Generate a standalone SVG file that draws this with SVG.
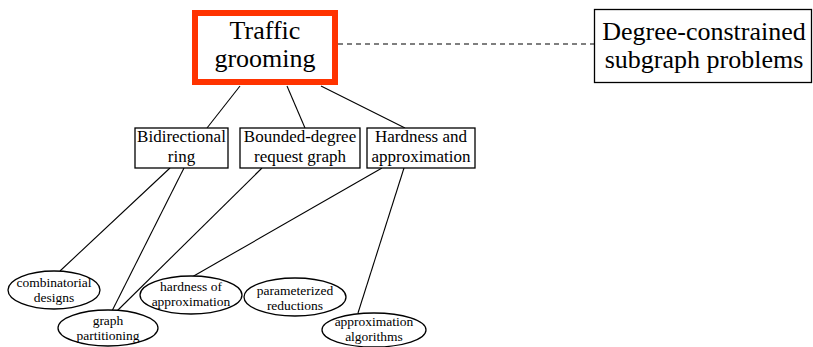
<svg xmlns="http://www.w3.org/2000/svg" width="813" height="347" viewBox="0 0 813 347">
<style>
text{font-family:"Liberation Serif","Times New Roman",serif;fill:#000;text-anchor:middle}
.big{font-size:26px}
.mid{font-size:17px}
.sm{font-size:13.5px}
.box{fill:#fff;stroke:#000;stroke-width:1.3}
.ell{fill:#fff;stroke:#000;stroke-width:1.3}
.edge{stroke:#000;stroke-width:1.1;fill:none}
</style>
<rect width="813" height="347" fill="#fff"/>
<g id="connectors">
<line class="edge" x1="338" y1="44" x2="594" y2="44" stroke-dasharray="5,4"/>
<line class="edge" x1="240" y1="86" x2="207" y2="128"/>
<line class="edge" x1="287" y1="86" x2="305" y2="128"/>
<line class="edge" x1="321" y1="86" x2="405" y2="128"/>
<line class="edge" x1="170" y1="168" x2="60" y2="271"/>
<line class="edge" x1="184" y1="168" x2="112" y2="311"/>
<line class="edge" x1="262" y1="168" x2="117" y2="311"/>
<line class="edge" x1="382" y1="168" x2="192" y2="277"/>
<line class="edge" x1="404" y1="168" x2="358" y2="313"/>
</g>
<g id="traffic-grooming">
<rect x="195" y="13" width="140" height="69" fill="#fff" stroke="#ff3300" stroke-width="6"/>
<text class="big" x="265" y="39">Traffic</text>
<text class="big" x="265" y="67">grooming</text>
</g>
<g id="degree-constrained">
<rect class="box" x="594.5" y="9.5" width="217" height="73"/>
<text class="big" x="704" y="40">Degree-constrained</text>
<text class="big" x="704" y="68">subgraph problems</text>
</g>
<g id="bidirectional-ring">
<rect class="box" x="135" y="128" width="93" height="40"/>
<text class="mid" x="181.5" y="142">Bidirectional</text>
<text class="mid" x="181.5" y="162">ring</text>
</g>
<g id="bounded-degree">
<rect class="box" x="240" y="128" width="120" height="40"/>
<text class="mid" x="300" y="142">Bounded-degree</text>
<text class="mid" x="300" y="162">request graph</text>
</g>
<g id="hardness">
<rect class="box" x="367" y="128" width="108" height="40"/>
<text class="mid" x="421" y="142">Hardness and</text>
<text class="mid" x="421" y="162">approximation</text>
</g>
<g id="combinatorial-designs">
<ellipse class="ell" cx="54" cy="290" rx="46" ry="19"/>
<text class="sm" x="54" y="287">combinatorial</text>
<text class="sm" x="54" y="302">designs</text>
</g>
<g id="graph-partitioning">
<ellipse class="ell" cx="108" cy="328" rx="50" ry="18"/>
<text class="sm" x="108" y="325">graph</text>
<text class="sm" x="108" y="340">partitioning</text>
</g>
<g id="hardness-of-approximation">
<ellipse class="ell" cx="191" cy="295" rx="51" ry="19"/>
<text class="sm" x="191" y="291">hardness of</text>
<text class="sm" x="191" y="306">approximation</text>
</g>
<g id="parameterized-reductions">
<ellipse class="ell" cx="295" cy="297" rx="51" ry="19"/>
<text class="sm" x="295" y="295">parameterized</text>
<text class="sm" x="295" y="310">reductions</text>
</g>
<g id="approximation-algorithms">
<ellipse class="ell" cx="374" cy="330" rx="52" ry="17"/>
<text class="sm" x="374" y="326">approximation</text>
<text class="sm" x="374" y="341">algorithms</text>
</g>
</svg>
